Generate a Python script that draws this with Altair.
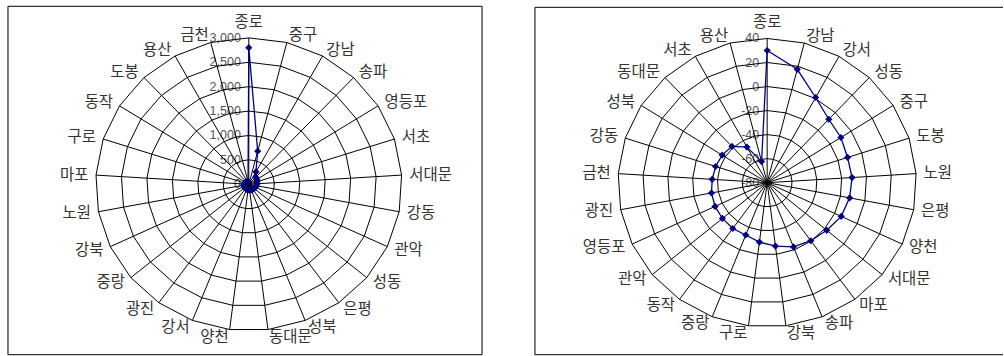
import altair as alt
import pandas as pd

# ---------------- data ----------------
L_CATS = ["종로", "중구", "강남", "송파", "영등포", "서초", "서대문", "강동", "관악", "성동",
          "은평", "성북", "동대문", "양천", "강서", "광진", "중랑", "강북", "노원", "마포",
          "구로", "동작", "도봉", "용산", "금천"]
L_VALS = [2800, 700, 290, 200, 185, 170, 160, 150, 140, 135,
          130, 125, 120, 115, 110, 105, 100, 95, 90, 85,
          80, 75, 70, 65, 60]
L_TICKS = [0, 500, 1000, 1500, 2000, 2500, 3000]
L_TICK_LABELS = ["0", "500", "1,000", "1,500", "2,000", "2,500", "3,000"]

R_CATS = ["종로", "강남", "강서", "성동", "중구", "도봉", "노원", "은평", "양천", "서대문",
          "마포", "송파", "강북", "구로", "중랑", "동작", "관악", "영등포", "광진", "금천",
          "강동", "성북", "동대문", "서초", "용산"]
R_VALS = [30, 17.4, 0.9, -7.6, -9.8, -12, -11.6, -12.5, -14.2, -17.8,
          -20.3, -22.5, -26.8, -30.2, -33.2, -32.9, -33.3, -33.7, -34.4, -35.7,
          -36.4, -37.1, -38.6, -46.2, -61.9]
R_TICKS = [-80, -60, -40, -20, 0, 20, 40]
R_TICK_LABELS = ["-80", "-60", "-40", "-20", "0", "20", "40"]

LINE = "#000080"
GRID = "#000000"
TEXT = "#333333"
NUMC = "#555555"
BORDER = "#333333"
KFONT = "Noto Sans CJK KR"
NFONT = "Liberation Sans"
KSIZE = 15.5


def radar(cats, vals, ticks, tick_labels, w, h, cx, cy, rx, ry, right_border=True, top=0):
    n = len(cats)
    tmin, tmax = min(ticks), max(ticks)
    xs = alt.Scale(domain=[-1, 1], range=[cx - rx, cx + rx], nice=False, zero=False)
    ys = alt.Scale(domain=[-1, 1], range=[cy + ry, cy - ry], nice=False, zero=False)

    def X(f):
        return alt.X(f, type="quantitative", scale=xs, axis=None)

    def Y(f):
        return alt.Y(f, type="quantitative", scale=ys, axis=None)

    ang = f"2*PI*datum.i/{n}"
    rad = f"(datum.v - ({tmin}))/({tmax} - ({tmin}))"

    cat_df = pd.DataFrame({"i": list(range(n)), "cat": cats, "v": vals})
    ring_rows = [{"v": t, "i": i} for t in ticks[1:] for i in range(n)]
    ring_df = pd.DataFrame(ring_rows)
    tick_df = pd.DataFrame({"v": ticks, "lab": tick_labels})

    # tick labels along the top spoke
    tick_text = alt.Chart(tick_df).transform_calculate(
        r=rad, zx="0"
    ).mark_text(align="right", baseline="middle", dx=-8, font=NFONT, fontSize=12.5, color=NUMC).encode(
        x=X("zx"), y=Y("r"), text="lab:N"
    )

    rings = alt.Chart(ring_df).transform_calculate(
        r=rad, a=ang
    ).transform_calculate(
        px="datum.r*sin(datum.a)", py="datum.r*cos(datum.a)"
    ).mark_line(interpolate="linear-closed", color=GRID, strokeWidth=1).encode(
        x=X("px"), y=Y("py"), detail="v:N", order="i:Q"
    )

    spokes = alt.Chart(cat_df).transform_calculate(
        a=ang, zx="0"
    ).transform_calculate(
        ex="sin(datum.a)", ey="cos(datum.a)"
    ).mark_rule(color=GRID, strokeWidth=1).encode(
        x=X("zx"), y=Y("zx"), x2=alt.X2("ex:Q"), y2=alt.Y2("ey:Q")
    )

    base = alt.Chart(cat_df).transform_calculate(
        r=rad, a=ang
    ).transform_calculate(
        px="datum.r*sin(datum.a)", py="datum.r*cos(datum.a)"
    )
    dline = base.mark_line(interpolate="linear-closed", color=LINE, strokeWidth=1.3).encode(
        x=X("px"), y=Y("py"), order="i:Q"
    )
    dpts = base.mark_point(shape="diamond", filled=True, size=52, color=LINE, opacity=1).encode(
        x=X("px"), y=Y("py")
    )

    lab_base = alt.Chart(cat_df).transform_calculate(
        a=ang
    ).transform_calculate(
        s="sin(datum.a)", lx="1.05*sin(datum.a)", ly="1.05*cos(datum.a)"
    )
    lab_r = lab_base.transform_filter("datum.s > 0.01").mark_text(
        align="left", baseline="middle", font=KFONT, fontSize=KSIZE, color=TEXT
    ).encode(x=X("lx"), y=Y("ly"), text="cat:N")
    lab_l = lab_base.transform_filter("datum.s < -0.01").mark_text(
        align="right", baseline="middle", font=KFONT, fontSize=KSIZE, color=TEXT
    ).encode(x=X("lx"), y=Y("ly"), text="cat:N")
    lab_c = lab_base.transform_filter("abs(datum.s) <= 0.01").mark_text(
        align="center", baseline="bottom", dy=-1, font=KFONT, fontSize=KSIZE, color=TEXT
    ).encode(x=X("lx"), y=Y("ly"), text="cat:N")

    bdf = pd.DataFrame({"k": [0]})
    borders = [
        alt.Chart(bdf).mark_rule(color=BORDER, strokeWidth=1.3).encode(
            x=alt.value(0), x2=alt.value(w), y=alt.value(top)),
        alt.Chart(bdf).mark_rule(color=BORDER, strokeWidth=1.3).encode(
            x=alt.value(0), x2=alt.value(w), y=alt.value(h)),
        alt.Chart(bdf).mark_rule(color=BORDER, strokeWidth=1.3).encode(
            x=alt.value(0), y=alt.value(top), y2=alt.value(h)),
    ]
    if right_border:
        borders.append(alt.Chart(bdf).mark_rule(color=BORDER, strokeWidth=1.3).encode(
            x=alt.value(w), y=alt.value(top), y2=alt.value(h)))

    return alt.layer(
        tick_text, rings, spokes, dline, dpts, lab_r, lab_l, lab_c, *borders
    ).properties(width=w, height=h)


left = radar(L_CATS, L_VALS, L_TICKS, L_TICK_LABELS,
             w=475, h=349, cx=241.3, cy=178.3, rx=153.4, ry=146.7)
right = radar(R_CATS, R_VALS, R_TICKS, R_TICK_LABELS,
              w=469, h=349, cx=232.7, cy=176.7, rx=149.5, ry=144.5,
              right_border=False, top=1)

chart = alt.hconcat(left, right, spacing=51).resolve_scale(
    x="independent", y="independent"
).properties(
    padding={"left": 7, "top": 5, "right": 0, "bottom": 0},
    background="white",
).configure_view(strokeWidth=0)

chart.save("out.html", embed_options={"renderer": "svg", "actions": False})
